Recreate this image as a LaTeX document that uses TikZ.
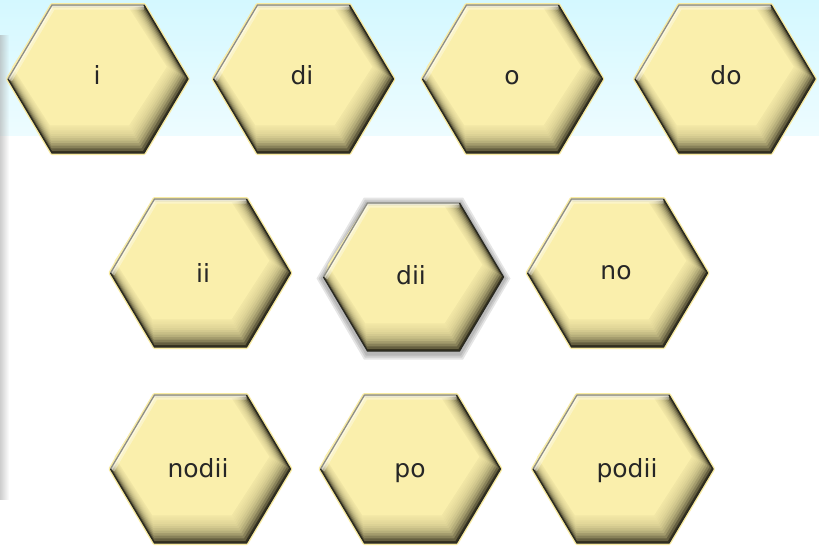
\documentclass[tikz,border=0pt]{standalone}
\usepackage{fontspec}
\setmainfont{DejaVu Sans}
\usetikzlibrary{fadings}
\definecolor{hexfill}{HTML}{FAEFAC}
\definecolor{hexdark}{HTML}{37331F}
\definecolor{hexhalo}{HTML}{F8EBA2}
\definecolor{hexline}{HTML}{2A2A22}
\definecolor{hexgrey}{HTML}{8E8E86}
\definecolor{bgtop}{HTML}{D4F8FF}
\definecolor{bgbot}{HTML}{EDFCFF}
\definecolor{txt}{HTML}{262626}
\tikzfading[name=fadebar, left color=transparent!45, right color=transparent!100]
\newcommand\hexp[4]{({#1-(#3)},{#2}) -- ({#1-0.511*(#3)},{#2-(#4)}) -- ({#1+0.511*(#3)},{#2-(#4)}) -- ({#1+(#3)},{#2}) -- ({#1+0.511*(#3)},{#2+(#4)}) -- ({#1-0.511*(#3)},{#2+(#4)}) -- cycle}
% #1 cx, #2 cy, #3 1=halo 0=shadow
\newcommand\hexbox[3]{%
\begin{scope}[shift={(#1,#2)}]
  \ifnum#3=1
    \draw[hexhalo, line width=4pt, line join=round] \hexp{0}{0}{90}{74};
  \else
    \foreach \g in {7,5,3}{\fill[black, fill opacity=0.10] \hexp{0}{1.5}{90+\g}{74+\g};}
  \fi
  \fill[hexdark] \hexp{0}{0}{90}{74};
  \foreach \t in {0.08,0.18,0.28,0.38,0.48,0.57,0.66,0.74,0.82,0.89,0.95,1.0}{
    \fill[hexfill, fill opacity=0.24] \hexp{-8*\t}{-11.5*\t}{90-12*\t}{74-14.5*\t};
  }
  \fill[hexfill] \hexp{-8*1.06}{-11.5*1.06}{90-12*1.06}{74-14.5*1.06};
  \begin{scope}
    \clip \hexp{0}{0}{90}{74};
    \draw[white, line width=9pt, opacity=0.35, line join=round] (-90,0) -- (-46,-74) -- (46,-74);
    \draw[white, line width=4pt, opacity=0.45, line join=round] (-90,0) -- (-46,-74) -- (46,-74);
  \end{scope}
  \draw[hexgrey, line width=1.3pt, line join=round] (-90,0) -- (-46,-74) -- (46,-74);
  \draw[hexline, line width=1.3pt, line join=round] (46,-74) -- (90,0) -- (46,74) -- (-46,74) -- (-90,0);
\end{scope}}
\begin{document}
\begin{tikzpicture}[x=1pt,y=-1pt,
  lbl/.style={anchor=base, text=txt, inner sep=0pt, font=\fontsize{25}{30}\selectfont}]
\useasboundingbox (0,0) rectangle (819,546);
\fill[white] (0,0) rectangle (819,546);
\shade[top color=bgtop, bottom color=bgbot] (0,0) rectangle (819,135);
\fill[black!35, path fading=fadebar] (0,35) rectangle (9,500);
% row 1
\hexbox{98}{79}{1}
\hexbox{303.5}{79}{1}
\hexbox{512.5}{79}{1}
\hexbox{725}{79}{1}
% row 2
\hexbox{200.5}{273}{1}
\hexbox{413.5}{277}{0}
\hexbox{617.5}{273}{1}
% row 3
\hexbox{200.5}{469}{1}
\hexbox{410.5}{469}{1}
\hexbox{623}{469}{1}
% labels
\node[lbl] (ni) at (97,84) {i};
\node[lbl] (ndi) at (302,84) {di};
\node[lbl] (no) at (512,84) {o};
\node[lbl] (ndo) at (726,84) {do};
\node[lbl] (nii) at (203,282) {ii};
\node[lbl] (ndii) at (411,284) {dii};
\node[lbl] (nno) at (616,279) {no};
\node[lbl] (nnodii) at (198,477) {nodii};
\node[lbl] (npo) at (410,477) {po};
\node[lbl] (npodii) at (627,477) {podii};
\end{tikzpicture}
\end{document}
